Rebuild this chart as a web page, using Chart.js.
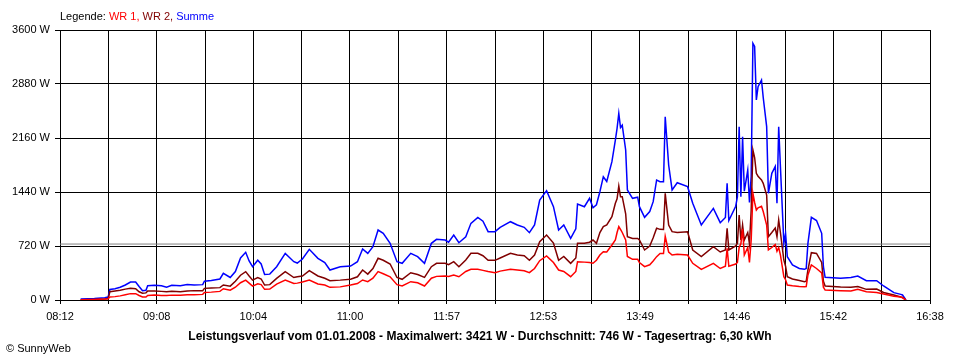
<!DOCTYPE html>
<html>
<head>
<meta charset="utf-8">
<title>Leistungsverlauf 01.01.2008</title>
<script src="https://cdn.jsdelivr.net/npm/chart.js@4.4.1/dist/chart.umd.min.js"></script>
<style>
  html, body { margin: 0; padding: 0; background: #fff; }
  #wrap { width: 960px; height: 360px; }
</style>
</head>
<body>
<div id="wrap"><canvas id="powerChart" width="960" height="360"></canvas></div>
<script>
// Messzeitpunkte (hh:mm)
const times = [
  '08:24','08:32','08:38','08:40','08:41','08:44','08:47','08:50','08:53','08:56',
  '08:58','09:00','09:02','09:03','09:07','09:11','09:14','09:17','09:22','09:26',
  '09:30','09:35','09:36','09:40','09:45','09:47','09:51','09:54','09:57','10:00',
  '10:02','10:04','10:07','10:09','10:11','10:14','10:18','10:23','10:28','10:30',
  '10:33','10:37','10:42','10:46','10:49','10:55','11:01','11:05','11:08','11:11',
  '11:14','11:17','11:20','11:24','11:28','11:31','11:36','11:40','11:44','11:48',
  '11:51','11:56','11:58','12:01','12:04','12:08','12:11','12:15','12:18','12:21',
  '12:25','12:28','12:34','12:38','12:42','12:45','12:48','12:51','12:55','12:59',
  '13:02','13:05','13:09','13:12','13:13','13:17','13:20','13:22','13:24','13:26',
  '13:28','13:30','13:33','13:35','13:36','13:37','13:38','13:39','13:41','13:42',
  '13:45','13:48','13:49','13:52','13:55','13:57','13:59','14:01','14:03','14:04',
  '14:06','14:08','14:11','14:17','14:20','14:25','14:32','14:36','14:39','14:40',
  '14:41','14:45','14:46','14:47','14:48','14:49','14:50','14:52','14:53','14:54',
  '14:55','14:56','14:57','14:58','15:00','15:01','15:03','15:04','15:06','15:08',
  '15:09','15:10','15:11','15:13','15:14','15:15','15:18','15:22','15:25','15:26',
  '15:27','15:29','15:32','15:35','15:36','15:37','15:46','15:52','15:56','16:01',
  '16:07','16:11','16:17','16:21','16:22','16:24'
];

// Summe (W)
const summe = [
  13, 20, 30, 40, 140, 150, 170, 200, 240, 240,
  180, 125, 130, 190, 195, 190, 170, 195, 190, 205,
  200, 205, 250, 260, 280, 355, 300, 380, 560, 636,
  520, 444, 530, 480, 340, 345, 444, 622, 511, 493,
  547, 676, 556, 500, 400, 444, 453, 511, 680, 622,
  711, 933, 889, 756, 511, 489, 622, 578, 489, 756,
  809, 800, 770, 867, 764, 844, 1022, 1102, 1050, 911,
  911, 969, 1044, 1000, 969, 898, 1000, 1333, 1458, 1244,
  933, 1000, 822, 950, 1280, 1244, 1356, 1230, 1270, 1444,
  1644, 1580, 1844, 2133, 2289, 2489, 2300, 2330, 2000, 1467,
  1356, 1370, 1244, 1102, 1180, 1311, 1600, 1578, 1578, 2444,
  1800, 1467, 1564, 1511, 1289, 1000, 1222, 1031, 1100, 1556,
  1060, 1250, 1378, 2311, 1378, 2178, 1450, 1733, 1300, 1650,
  3421, 3380, 2667, 2844, 2933, 2700, 2311, 1422, 1689, 1780,
  1289, 2311, 1778, 756, 889, 578, 467, 420, 409, 420,
  756, 1102, 1060, 889, 444, 302, 289, 300, 320, 258,
  258, 187, 98, 75, 67, 0
];

// WR 2 (W)
const wr2 = [
  5, 8, 12, 20, 110, 120, 130, 145, 155, 150,
  110, 90, 95, 120, 120, 115, 110, 115, 110, 120,
  125, 125, 155, 160, 165, 200, 185, 250, 330, 378,
  320, 265, 300, 280, 200, 205, 289, 378, 300, 310,
  320, 391, 320, 290, 258, 265, 276, 310, 400, 345,
  420, 556, 530, 480, 300, 276, 364, 340, 302, 444,
  489, 489, 470, 511, 444, 533, 622, 622, 590, 529,
  529, 560, 622, 600, 590, 529, 600, 778, 867, 760,
  529, 580, 489, 560, 756, 756, 770, 800, 756, 900,
  978, 1000, 1111, 1289, 1350, 1520, 1378, 1378, 1150, 844,
  820, 820, 800, 667, 720, 830, 956, 942, 940, 1422,
  1000, 911, 900, 911, 667, 578, 711, 640, 667, 956,
  667, 720, 760, 1133, 800, 1000, 800, 900, 750, 1200,
  2000, 1900, 1689, 1650, 1600, 1556, 1400, 844, 900, 960,
  844, 1067, 900, 533, 450, 311, 280, 260, 244, 250,
  400, 631, 620, 500, 250, 187, 173, 170, 180, 142,
  145, 100, 67, 40, 35, 0
];

// WR 1 (W)
const wr1 = [
  5, 8, 12, 15, 40, 45, 55, 70, 85, 85,
  60, 40, 40, 60, 65, 60, 60, 65, 65, 70,
  70, 75, 100, 105, 115, 150, 130, 170, 230, 265,
  225, 185, 215, 205, 142, 145, 213, 267, 220, 225,
  240, 267, 213, 200, 169, 175, 200, 220, 267, 245,
  290, 378, 350, 310, 205, 187, 244, 230, 187, 290,
  315, 320, 315, 333, 310, 380, 409, 409, 395, 380,
  364, 385, 409, 400, 390, 364, 420, 524, 587, 500,
  400, 380, 311, 380, 511, 505, 500, 490, 530, 600,
  644, 640, 733, 800, 900, 978, 940, 900, 800, 580,
  542, 542, 500, 444, 470, 520, 578, 620, 620, 850,
  640, 600, 610, 600, 489, 409, 489, 420, 450, 689,
  450, 480, 500, 700, 750, 950, 600, 700, 500, 800,
  1422, 1300, 1200, 1230, 1250, 1180, 1000, 667, 700, 740,
  650, 700, 600, 311, 270, 200, 190, 180, 178, 180,
  333, 467, 420, 360, 170, 133, 124, 120, 142, 111,
  100, 80, 50, 40, 30, 0
];

const durchschnitt = 746;
const xTickLabels = ['08:12', '09:08', '10:04', '11:00', '11:57', '12:53', '13:49', '14:46', '15:42', '16:38'];
const yTicks = [0, 720, 1440, 2160, 2880, 3600];

const FONT = '"Liberation Sans", Arial, sans-serif';

function toMin(t) {
  const [h, m] = t.split(':').map(Number);
  return h * 60 + m;
}

const xMin = toMin(xTickLabels[0]);
const xMax = toMin(xTickLabels[xTickLabels.length - 1]);

function series(values) {
  return values.map((v, i) => ({ x: toMin(times[i]), y: v }));
}

const textPlugin = {
  id: 'sunnyTexts',
  afterDraw(chart) {
    const ctx = chart.ctx;
    ctx.save();
    ctx.textBaseline = 'middle';

    // Legende oben links
    ctx.font = '11px ' + FONT;
    ctx.textAlign = 'left';
    const parts = [
      ['Legende: ', '#000000'],
      ['WR 1, ', '#ff0000'],
      ['WR 2, ', '#800000'],
      ['Summe', '#0000ff']
    ];
    let x = 60;
    parts.forEach(([txt, col]) => {
      ctx.fillStyle = col;
      ctx.fillText(txt, x, 17);
      x += ctx.measureText(txt).width;
    });

    // Titel unten
    ctx.font = 'bold 12px ' + FONT;
    ctx.fillStyle = '#000';
    ctx.textAlign = 'center';
    ctx.fillText('Leistungsverlauf vom 01.01.2008 - Maximalwert: 3421 W - Durchschnitt: 746 W - Tagesertrag: 6,30 kWh', 480, 337);

    ctx.font = '11px ' + FONT;
    ctx.textAlign = 'left';
    ctx.fillText('\u00A9 SunnyWeb', 6, 349);
    ctx.restore();
  }
};

const ctx = document.getElementById('powerChart').getContext('2d');
new Chart(ctx, {
  type: 'line',
  data: {
    datasets: [
      {
        label: 'WR 1',
        data: series(wr1),
        borderColor: '#ff0000',
        borderWidth: 1.5,
        order: 1
      },
      {
        label: 'WR 2',
        data: series(wr2),
        borderColor: '#800000',
        borderWidth: 1.5,
        order: 2
      },
      {
        label: 'Summe',
        data: series(summe),
        borderColor: '#0000ff',
        borderWidth: 1.5,
        order: 3
      },
      {
        label: 'Durchschnitt',
        data: [{ x: xMin, y: durchschnitt }, { x: xMax, y: durchschnitt }],
        borderColor: '#808080',
        borderWidth: 1,
        order: 4
      }
    ]
  },
  options: {
    responsive: false,
    animation: false,
    elements: {
      point: { radius: 0 },
      line: { tension: 0, fill: false }
    },
    layout: { padding: { left: 0, right: 30, top: 30, bottom: 0 } },
    plugins: {
      legend: { display: false },
      tooltip: { enabled: false },
      title: { display: false }
    },
    scales: {
      x: {
        type: 'linear',
        min: xMin,
        max: xMax,
        afterBuildTicks(scale) {
          const n = (xTickLabels.length - 1) * 2;
          scale.ticks = Array.from({ length: n + 1 }, (_, i) => ({ value: xMin + i * (xMax - xMin) / n }));
        },
        afterFit(scale) { scale.height = 60; },
        grid: { color: '#000', lineWidth: 1, tickLength: 4 },
        border: { color: '#000', width: 1 },
        ticks: {
          color: '#000',
          font: { family: FONT, size: 11 },
          padding: 6,
          autoSkip: false,
          maxRotation: 0,
          callback: (v, i) => (i % 2 === 0 ? xTickLabels[i / 2] : '')
        }
      },
      y: {
        min: 0,
        max: 3600,
        afterBuildTicks(scale) {
          scale.ticks = yTicks.map(v => ({ value: v }));
        },
        afterFit(scale) { scale.width = 60; },
        grid: { color: '#000', lineWidth: 1, tickLength: 5 },
        border: { color: '#000', width: 1 },
        ticks: {
          color: '#000',
          font: { family: FONT, size: 11 },
          padding: 5,
          callback: v => v + ' W'
        }
      }
    }
  },
  plugins: [textPlugin]
});
</script>
</body>
</html>
